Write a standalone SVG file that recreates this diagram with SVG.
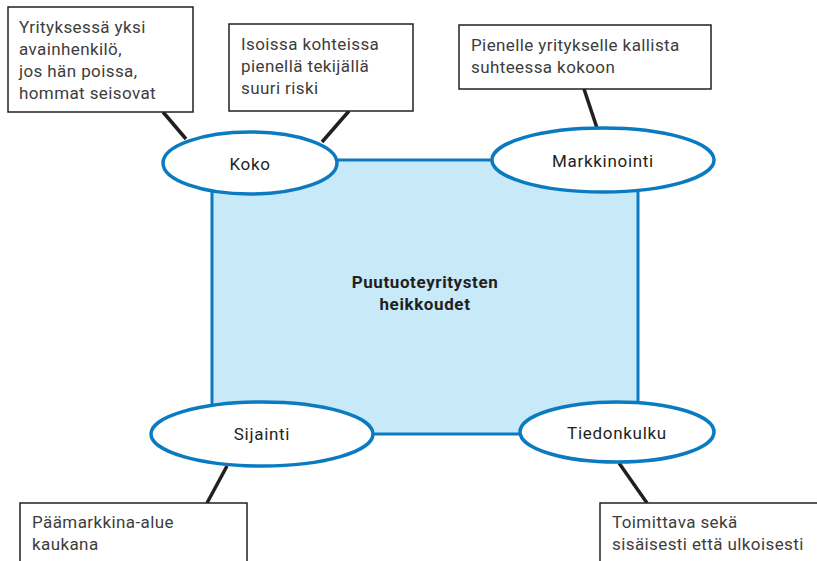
<svg xmlns="http://www.w3.org/2000/svg" width="817" height="561" viewBox="0 0 817 561">
  <style>
    .hub { fill: #c7e9f8; stroke: #0b7bc1; stroke-width: 3; }
    .topic { fill: #ffffff; stroke: #0b7bc1; stroke-width: 3.5; }
    .note { fill: #ffffff; stroke: #231f20; stroke-width: 1.5; }
    .link { stroke: #231f20; stroke-width: 3.5; fill: none; }
    text { font-family: Roboto, "Liberation Sans", sans-serif; font-size: 17px; }
    .lbl { fill: #231f20; text-anchor: middle; letter-spacing: 0.7px; }
    .ntxt { fill: #3d3d3d; letter-spacing: 0.4px; }
    .title { fill: #231f20; font-weight: bold; text-anchor: middle; letter-spacing: 0.6px; }
  </style>
  <rect width="817" height="561" fill="#ffffff"/>

  <!-- central area -->
  <g id="hub">
    <rect class="hub" x="212" y="160" width="426" height="274"/>
    <text class="title" x="425" y="288">Puutuoteyritysten</text>
    <text class="title" x="425" y="310">heikkoudet</text>
  </g>

  <!-- links from notes to topics -->
  <g id="connectors">
    <line class="link" x1="163" y1="112" x2="186" y2="139"/>
    <line class="link" x1="349" y1="111" x2="322" y2="142"/>
    <line class="link" x1="584" y1="89" x2="597" y2="128"/>
    <line class="link" x1="227" y1="466" x2="207" y2="503"/>
    <line class="link" x1="619" y1="463" x2="647" y2="503"/>
  </g>

  <!-- topics -->
  <g id="koko">
    <ellipse class="topic" cx="250" cy="163" rx="87" ry="31"/>
    <text class="lbl" x="250" y="170">Koko</text>
  </g>
  <g id="markkinointi">
    <ellipse class="topic" cx="603" cy="160" rx="111" ry="32"/>
    <text class="lbl" x="603" y="167">Markkinointi</text>
  </g>
  <g id="sijainti">
    <ellipse class="topic" cx="262" cy="434" rx="111" ry="32"/>
    <text class="lbl" x="262" y="440">Sijainti</text>
  </g>
  <g id="tiedonkulku">
    <ellipse class="topic" cx="617" cy="432" rx="97" ry="30"/>
    <text class="lbl" x="617" y="439">Tiedonkulku</text>
  </g>

  <!-- notes -->
  <g id="note-avainhenkilo">
    <rect class="note" x="8" y="7" width="185" height="105"/>
    <text class="ntxt" x="19" y="33">Yrityksessä yksi</text>
    <text class="ntxt" x="19" y="55">avainhenkilö,</text>
    <text class="ntxt" x="19" y="77">jos hän poissa,</text>
    <text class="ntxt" x="19" y="99">hommat seisovat</text>
  </g>
  <g id="note-riski">
    <rect class="note" x="229" y="24" width="184" height="87"/>
    <text class="ntxt" x="241" y="50">Isoissa kohteissa</text>
    <text class="ntxt" x="241" y="72">pienellä tekijällä</text>
    <text class="ntxt" x="241" y="94">suuri riski</text>
  </g>
  <g id="note-kallista">
    <rect class="note" x="459" y="25" width="252" height="64"/>
    <text class="ntxt" x="471" y="51">Pienelle yritykselle kallista</text>
    <text class="ntxt" x="471" y="73">suhteessa kokoon</text>
  </g>
  <g id="note-paamarkkina">
    <rect class="note" x="20" y="503" width="227" height="70"/>
    <text class="ntxt" x="32" y="528">Päämarkkina-alue</text>
    <text class="ntxt" x="32" y="550">kaukana</text>
  </g>
  <g id="note-toimittava">
    <rect class="note" x="600" y="503" width="230" height="70"/>
    <text class="ntxt" x="612" y="528">Toimittava sekä</text>
    <text class="ntxt" x="612" y="550">sisäisesti että ulkoisesti</text>
  </g>
</svg>
